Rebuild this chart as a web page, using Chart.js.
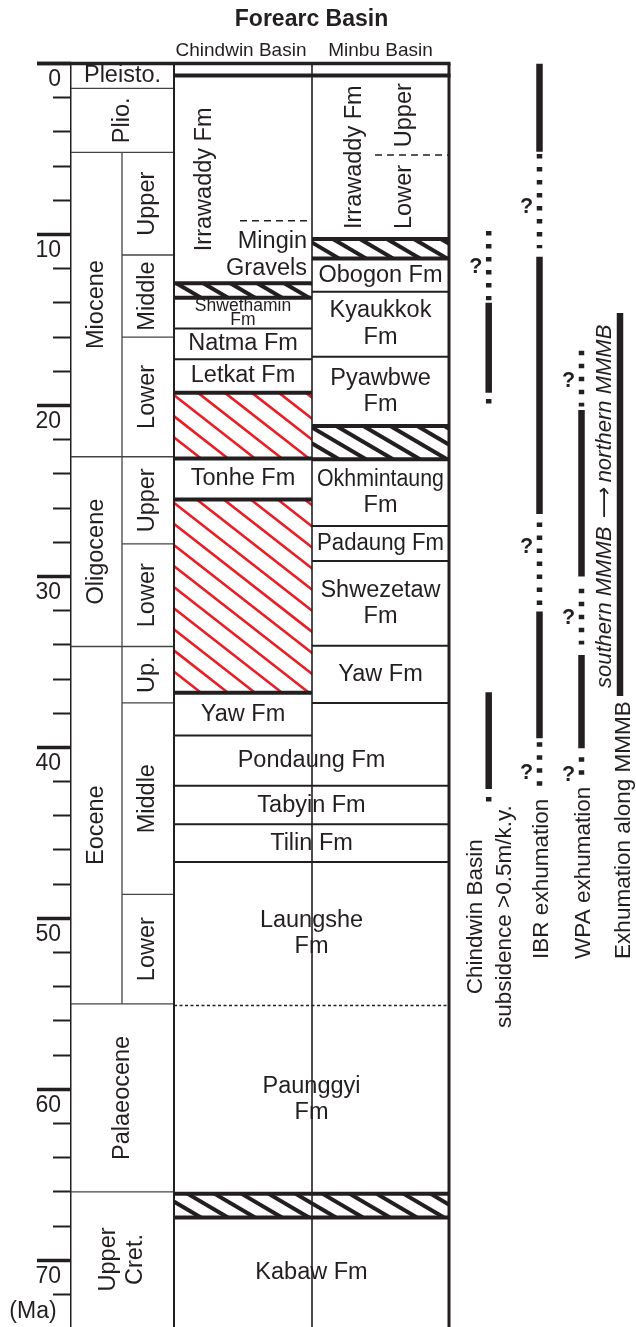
<!DOCTYPE html>
<html>
<head>
<meta charset="utf-8">
<title>Forearc Basin</title>
<script src="https://cdn.jsdelivr.net/npm/chart.js@4.4.1/dist/chart.umd.min.js"></script>
<style>
  html, body { margin: 0; padding: 0; background: #fff; }
  canvas { display: block; }
</style>
</head>
<body>
<canvas id="column" width="636" height="1327"></canvas>
<script>
// ---------- data (ages in Ma) ----------
const ageMax = 73.9;
const tickValues = [0, 10, 20, 30, 40, 50, 60, 70];
const tickLabels = ['0', '10', '20', '30', '40', '50', '60', '70'];

const epochNames = ['Pleisto.', 'Plio.', 'Miocene', 'Oligocene', 'Eocene', 'Palaeocene', 'Upper|Cret.'];
const epochTop   = [0, 1.45, 5.2, 23.0, 34.1, 55.0, 66.0];
const epochBase  = [1.45, 5.2, 23.0, 34.1, 55.0, 66.0, 73.9];

const subEpochNames = ['Upper', 'Middle', 'Lower', 'Upper', 'Lower', 'Up.', 'Middle', 'Lower'];
const subEpochTop   = [5.2, 11.2, 16.0, 23.0, 28.1, 34.1, 37.4, 48.6];
const subEpochBase  = [11.2, 16.0, 23.0, 28.1, 34.1, 37.4, 48.6, 55.0];

// Chindwin Basin
const chindwinNames = ['Irrawaddy Fm', '', 'Shwethamin|Fm', 'Natma Fm', 'Letkat Fm', '', 'Tonhe Fm', '', 'Yaw Fm'];
const chindwinTop   = [0.7, 12.85, 13.7, 15.5, 17.3, 19.25, 23.1, 25.5, 36.8];
const chindwinBase  = [12.85, 13.7, 15.5, 17.3, 19.25, 23.1, 25.5, 36.8, 39.3];
const chindwinKind  = ['fm', 'gap', 'fm', 'fm', 'fm', 'redgap', 'fm', 'redgap', 'fm'];
const chindwinMembers   = ['Mingin|Gravels'];
const chindwinMemberTop = [9.2];
const chindwinMemberBase = [12.85];

// Minbu Basin
const minbuNames = ['Irrawaddy Fm', '', 'Obogon Fm', 'Kyaukkok|Fm', 'Pyawbwe|Fm', '', 'Okhmintaung|Fm', 'Padaung Fm', 'Shwezetaw|Fm', 'Yaw Fm'];
const minbuTop   = [0.7, 10.26, 11.4, 13.35, 17.15, 21.2, 23.15, 27.05, 29.1, 34.06];
const minbuBase  = [10.26, 11.4, 13.35, 17.15, 21.2, 23.15, 27.05, 29.1, 34.06, 37.4];
const minbuKind  = ['fm', 'gap', 'fm', 'fm', 'fm', 'gap', 'fm', 'fm', 'fm', 'fm'];
const minbuMembers    = ['Upper', 'Lower'];
const minbuMemberTop  = [0.7, 5.35];
const minbuMemberBase = [5.35, 10.26];

// both basins
const sharedNames = ['Pondaung Fm', 'Tabyin Fm', 'Tilin Fm', 'Laungshe|Fm', 'Paunggyi|Fm', '', 'Kabaw Fm'];
const sharedTop   = [39.3, 42.25, 44.5, 46.7, 55.1, 66.1, 67.5];
const sharedBase  = [42.25, 44.5, 46.7, 55.1, 66.1, 67.5, 73.9];
const sharedKind  = ['fm', 'fm', 'fm', 'fm', 'fm', 'gap', 'fm'];
const uncertainContacts = [55.1];
const verticalNames = ['Irrawaddy Fm'];

// Chindwin Basin subsidence >0.5m/k.y.
const subsidenceFrom  = [9.8, 14.0, 19.62, 36.77, 42.9];
const subsidenceTo    = [13.85, 19.25, 19.9, 42.44, 43.2];
const subsidenceSure  = [false, true, false, true, false];
const subsidenceQuery = [11.9];

// IBR exhumation
const ibrFrom  = [0, 5.3, 11.3, 26.85, 32.05, 39.7];
const ibrTo    = [5.16, 10.8, 26.35, 31.75, 39.46, 42.3];
const ibrSure  = [true, false, true, false, true, false];
const ibrQuery = [8.4, 28.3, 41.5];

// WPA exhumation
const wpaFrom  = [16.8, 20.26, 30.72, 34.59, 40.58];
const wpaTo    = [20.06, 30.01, 33.98, 40.05, 41.75];
const wpaSure  = [false, true, false, true, false];
const wpaQuery = [18.6, 32.45, 41.6];

// exhumation along MMMB
const mmmbFrom = [14.6];
const mmmbTo   = [37.0];
const mmmbSure = [true];

const trackLabels = ['Chindwin Basin|subsidence >0.5m/k.y.', 'IBR exhumation', 'WPA exhumation', 'Exhumation along MMMB'];
const mmmbDirection = 'southern MMMB \u27F6 northern MMMB';

// ---------- layout & style ----------
const FONT = "'Liberation Sans', Arial, Helvetica, sans-serif";
const INK = '#231f20';
const RED = '#ed1c24';
const L = {
  tickOut: 37, axis: 71, sub: 122, chindwin: 174, divide: 312, minbu: 449, right: 636,
  chindwinMember: 240, minbuMember: 375,
  chindwinVertical: 205, minbuVertical: 355, minbuMemberText: 405, chindwinMemberText: 307,
  tracks: [488.7, 539.5, 581.5, 620]
};

function segments(x, from, to, sure) {
  return from.map((f, i) => ({
    data: [{ x: x, y: f }, { x: x, y: to[i] }],
    showLine: true,
    borderColor: INK,
    borderWidth: sure[i] ? 6.5 : 5.5,
    borderDash: sure[i] ? [] : [4.5, 8.5],
    borderCapStyle: 'butt',
    pointRadius: 0,
    xAxisID: 'x',
    yAxisID: 'y'
  }));
}

function line(ctx, x0, y0, x1, y1, w, color, dash) {
  ctx.save();
  ctx.strokeStyle = color || INK;
  ctx.lineWidth = w;
  ctx.setLineDash(dash || []);
  ctx.beginPath();
  ctx.moveTo(x0, y0);
  ctx.lineTo(x1, y1);
  ctx.stroke();
  ctx.restore();
}

function hatch(ctx, x0, x1, y0, y1, color, w, run, gap) {
  ctx.save();
  ctx.beginPath();
  ctx.rect(x0, y0, x1 - x0, y1 - y0);
  ctx.clip();
  ctx.strokeStyle = color;
  ctx.lineWidth = w;
  const dx = (y1 - y0) * run;
  for (let x = x0 - dx; x < x1 + gap; x += gap) {
    ctx.beginPath();
    ctx.moveTo(x, y0);
    ctx.lineTo(x + dx, y1);
    ctx.stroke();
  }
  ctx.restore();
}

function text(ctx, str, x, y, opt) {
  const o = Object.assign({ size: 23.5, weight: 'normal', style: 'normal', align: 'center', rotate: false, gap: 26.5 }, opt);
  ctx.save();
  ctx.font = `${o.style} ${o.weight} ${o.size}px ${FONT}`;
  ctx.fillStyle = INK;
  ctx.textAlign = o.align;
  ctx.textBaseline = 'middle';
  ctx.translate(x, y);
  if (o.rotate) ctx.rotate(-Math.PI / 2);
  const lines = str.split('|');
  lines.forEach((ln, i) => {
    const off = (i - (lines.length - 1) / 2) * o.gap;
    if (o.maxWidth) ctx.fillText(ln, 0, off, o.maxWidth);
    else ctx.fillText(ln, 0, off);
  });
  ctx.restore();
}

const columnPlugin = {
  id: 'column',
  afterDraw(chart) {
    const ctx = chart.ctx;
    const X = v => chart.scales.x.getPixelForValue(v);
    const Y = v => chart.scales.y.getPixelForValue(v);
    const bottom = Y(ageMax);

    function drawUnits(names, tops, bases, kinds, x0, x1, cx, maxW) {
      kinds.forEach((k, i) => {
        if (k === 'gap') hatch(ctx, X(x0), X(x1), Y(tops[i]), Y(bases[i]), INK, 4, 1.7, 27);
        if (k === 'redgap') hatch(ctx, X(x0), X(x1), Y(tops[i]), Y(bases[i]), RED, 2.6, 1.28, 27);
      });
      bases.forEach((b, i) => {
        if (b >= ageMax) return;
        const thick = kinds[i] !== 'fm' || (kinds[i + 1] && kinds[i + 1] !== 'fm');
        const unsure = uncertainContacts.includes(b);
        line(ctx, X(x0), Y(b), X(x1), Y(b), unsure ? 1.4 : (thick ? 4 : 2), INK, unsure ? [3, 2.5] : null);
      });
      names.forEach((n, i) => {
        if (!n) return;
        const cy = (Y(tops[i]) + Y(bases[i])) / 2;
        if (verticalNames.includes(n)) return;
        const small = n.startsWith('Shwethamin');
        text(ctx, n, X(cx), cy, small ? { size: 17.5, gap: 14.7 } : { maxWidth: maxW });
      });
    }

    // epoch column
    epochNames.forEach((n, i) => {
      const top = Y(epochTop[i]), base = Y(epochBase[i]);
      if (i > 0) line(ctx, X(L.axis), top, X(L.chindwin), top, 1.3, '#444');
      const split = subEpochTop.some(t => t >= epochTop[i] && t < epochBase[i]);
      const cx = split ? (X(L.axis) + X(L.sub)) / 2 : (X(L.axis) + X(L.chindwin)) / 2;
      const horizontal = base - top < 40;
      text(ctx, n, cx, (top + base) / 2, { rotate: !horizontal, gap: 27 });
    });
    subEpochNames.forEach((n, i) => {
      const top = Y(subEpochTop[i]), base = Y(subEpochBase[i]);
      if (!epochTop.includes(subEpochTop[i])) line(ctx, X(L.sub), top, X(L.chindwin), top, 1.3, '#444');
      text(ctx, n, (X(L.sub) + X(L.chindwin)) / 2, (top + base) / 2, { rotate: true });
    });
    line(ctx, X(L.sub), Y(Math.min(...subEpochTop)), X(L.sub), Y(Math.max(...subEpochBase)), 1.3, '#444');

    // formations
    drawUnits(chindwinNames, chindwinTop, chindwinBase, chindwinKind, L.chindwin, L.divide, (L.chindwin + L.divide) / 2, 130);
    drawUnits(minbuNames, minbuTop, minbuBase, minbuKind, L.divide, L.minbu, (L.divide + L.minbu) / 2, 127);
    drawUnits(sharedNames, sharedTop, sharedBase, sharedKind, L.chindwin, L.minbu, (L.chindwin + L.minbu) / 2, 260);

    // Irrawaddy subdivisions
    chindwinMembers.forEach((n, i) => {
      line(ctx, X(L.chindwinMember), Y(chindwinMemberTop[i]), X(L.divide), Y(chindwinMemberTop[i]), 1.4, INK, [7, 5]);
      text(ctx, n, X(L.chindwinMemberText), (Y(chindwinMemberTop[i]) + Y(chindwinMemberBase[i])) / 2 + 3, { align: 'right', gap: 27.3 });
    });
    minbuMembers.forEach((n, i) => {
      if (i > 0) line(ctx, X(L.minbuMember), Y(minbuMemberTop[i]), X(L.minbu), Y(minbuMemberTop[i]), 1.4, INK, [7, 5]);
      text(ctx, n, X(L.minbuMemberText), (Y(minbuMemberTop[i]) + Y(minbuMemberBase[i])) / 2, { rotate: true });
    });
    text(ctx, chindwinNames[0], X(L.chindwinVertical), (Y(chindwinTop[0]) + Y(chindwinBase[0])) / 2, { rotate: true });
    text(ctx, minbuNames[0], X(L.minbuVertical), (Y(minbuTop[0]) + Y(minbuBase[0])) / 2, { rotate: true });

    // frame
    line(ctx, X(L.chindwin), Y(0), X(L.chindwin), bottom, 2);
    line(ctx, X(L.divide), Y(0), X(L.divide), bottom, 1.6);
    line(ctx, X(L.minbu), Y(0), X(L.minbu), bottom, 3);
    line(ctx, X(L.tickOut), Y(0), X(L.minbu) + 1.5, Y(0), 3.5);
    line(ctx, X(L.chindwin), Y(chindwinTop[0]), X(L.minbu) + 1.5, Y(chindwinTop[0]), 4);

    // headings
    text(ctx, 'Forearc Basin', (X(L.chindwin) + X(L.minbu)) / 2, 20, { size: 23, weight: 'bold' });
    text(ctx, 'Chindwin Basin', (X(L.chindwin) + X(L.divide)) / 2 - 2, 50.5, { size: 19 });
    text(ctx, 'Minbu Basin', (X(L.divide) + X(L.minbu)) / 2, 50.5, { size: 19 });
    text(ctx, '(Ma)', 33, 1312, { size: 23 });

    // question marks beside uncertain parts
    [subsidenceQuery, ibrQuery, wpaQuery].forEach((qs, t) => {
      qs.forEach(q => text(ctx, '?', X(L.tracks[t]) - 13, Y(q), { size: 21.5, weight: 'bold' }));
    });

    // track labels
    text(ctx, trackLabels[0], X(L.tracks[0]) + 1.8, Y(49.9), { rotate: true, size: 22.5, gap: 29 });
    text(ctx, trackLabels[1], X(L.tracks[1]) + 2.5, Y(52.37), { rotate: true, size: 22.5, align: 'left' });
    text(ctx, trackLabels[2], X(L.tracks[2]) + 2.2, Y(52.37), { rotate: true, size: 22.5, align: 'left' });
    text(ctx, trackLabels[3], X(L.tracks[3]) + 3.7, Y(52.37), { rotate: true, size: 22.5, align: 'left' });
    text(ctx, mmmbDirection, X(L.tracks[3]) - 15, Y(25.9), { rotate: true, size: 22, style: 'italic' });
  }
};

const axisBase = { type: 'linear', position: 'left', reverse: true, min: 0, max: ageMax, bounds: 'data' };
const noPad = w => s => { s.width = w; s.paddingTop = 0; s.paddingBottom = 0; };

new Chart(document.getElementById('column'), {
  type: 'scatter',
  data: {
    datasets: [
      ...segments(L.tracks[0], subsidenceFrom, subsidenceTo, subsidenceSure),
      ...segments(L.tracks[1], ibrFrom, ibrTo, ibrSure),
      ...segments(L.tracks[2], wpaFrom, wpaTo, wpaSure),
      ...segments(L.tracks[3], mmmbFrom, mmmbTo, mmmbSure)
    ]
  },
  options: {
    responsive: false,
    animation: false,
    devicePixelRatio: 1,
    events: [],
    layout: { padding: { top: 63.5, left: 0, right: 0, bottom: 0 } },
    plugins: { legend: { display: false }, tooltip: { enabled: false } },
    scales: {
      x: { type: 'linear', display: false, min: L.axis, max: L.right, bounds: 'data' },
      y: {
        ...axisBase, weight: 2,
        afterFit: noPad(L.axis),
        afterBuildTicks: s => { s.ticks = tickValues.map(v => ({ value: v })); },
        ticks: { padding: 10, labelOffset: 16, color: INK, font: { family: FONT, size: 23 }, callback: (v, i) => tickLabels[i] },
        grid: { display: false, drawTicks: false },
        border: { display: false }
      },
      yMinor: {
        ...axisBase, weight: 1,
        afterFit: noPad(0),
        ticks: { display: false, stepSize: 2, includeBounds: false },
        grid: { drawOnChartArea: false, tickLength: 18, tickWidth: 2, tickColor: INK },
        border: { display: true, width: 1.5, color: INK }
      },
      yMajor: {
        ...axisBase, weight: 0,
        afterFit: noPad(0),
        afterBuildTicks: s => { s.ticks = tickValues.map(v => ({ value: v })); },
        ticks: { display: false },
        grid: { drawOnChartArea: false, tickLength: 34, tickWidth: 3.5, tickColor: INK },
        border: { display: false }
      }
    }
  },
  plugins: [columnPlugin]
});
</script>
</body>
</html>
